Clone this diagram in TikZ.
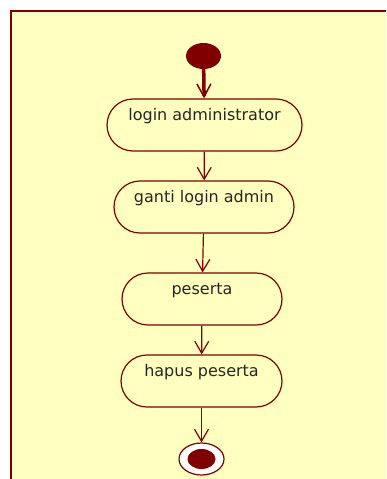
\documentclass[tikz,border=0pt]{standalone}
\usepackage{fontspec}
\setmainfont{DejaVu Sans}
\usepackage{xcolor}
\usetikzlibrary{shapes,arrows.meta,positioning}
\definecolor{umlred}{RGB}{128,0,0}
\definecolor{umlbg}{RGB}{255,255,192}

\begin{document}
\begin{tikzpicture}[x=1pt, y=-1pt,
	activity/.style={draw=umlred, line width=1.2pt, fill=umlbg, rectangle, rounded corners=26pt, minimum height=52pt, inner sep=0pt, text=black!85, font=\fontsize{16}{19}\selectfont, text height=12pt, text depth=22pt},
	flow/.style={-{Straight Barb[length=12pt, width=14pt]}, draw=umlred, line width=1.2pt}]
	\useasboundingbox (0,0) rectangle (386,479);
	\clip (0,0) rectangle (386,479);
	\draw[draw=umlred, line width=1.5pt, fill=umlbg] (11,11) rectangle (400,495);
	
	\node[draw=none, ellipse, fill=umlred, minimum width=35pt, minimum height=26pt, inner sep=0pt] (start) at (203.5,56) {};
	\node[activity, minimum width=195pt] (login) at (204.5,125) {login administrator};
	\node[activity, minimum width=180pt] (ganti) at (204,207) {ganti login admin};
	\node[activity, minimum width=160pt] (peserta) at (202,299) {peserta};
	\node[activity, minimum width=161pt] (hapus) at (201.5,381) {hapus peserta};
	\node[draw=umlred, line width=1.2pt, ellipse, fill=white, minimum width=45pt, minimum height=32pt, inner sep=0pt] (end) at (201.5,459) {};
	\node[ellipse, fill=umlred, minimum width=28pt, minimum height=20pt, inner sep=0pt] (endin) at (end.center) {};
	
	\draw[flow, line width=3.5pt, -{Straight Barb[length=13pt, width=14pt, line width=1.5pt]}] (start) -- (login);
	\draw[flow] (login) -- (ganti);
	\draw[flow] (ganti) -- (peserta);
	\draw[flow] (peserta) -- (hapus);
	\draw[flow] (hapus) -- (end);
\end{tikzpicture}
\end{document}
